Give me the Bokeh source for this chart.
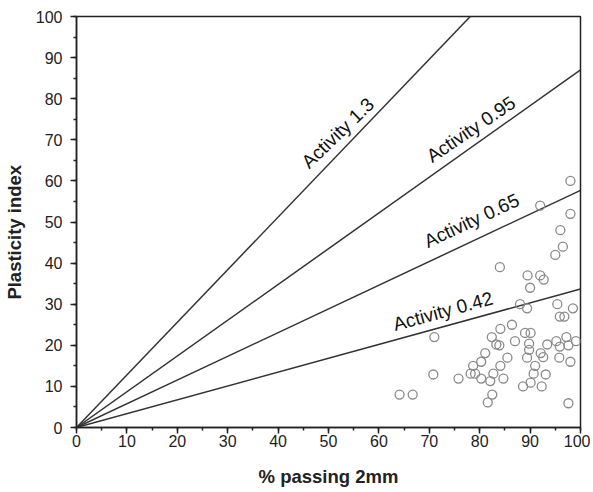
import math
from bokeh.plotting import figure
from bokeh.models import Range1d, SingleIntervalTicker, ColumnDataSource
from bokeh.embed import file_html
from bokeh.resources import INLINE
from bokeh.core.properties import value

# % passing 2mm (x) and plasticity index (y)
passing = [98, 92, 98, 96, 96.5, 95, 84, 89.5, 92, 92.7, 90, 88, 89.4, 95.4, 98.5,
           95.9, 96.8, 71, 86.4, 84.1, 82.4, 89, 90.1, 83.3, 83.9, 87, 89.8, 93.4,
           95.2, 97.2, 99.1, 95.9, 97.6, 89.8, 81.1, 92.1, 92.6, 85.5, 89.4, 95.8,
           98, 80.3, 78.7, 84.1, 91, 78.2, 79.1, 82.7, 90.7, 93.1, 70.8, 75.8, 80.3,
           82.1, 84.7, 90.1, 88.6, 92.3, 82.5, 81.6, 97.6, 64.1, 66.7]
plasticity = [60, 54, 52, 48, 44, 42, 39, 37, 37, 36, 34, 30, 29, 30, 29,
              27, 27, 22, 25, 24, 22, 23, 23, 20.2, 20, 21, 20.4, 20.2,
              21, 22, 21, 19.7, 20, 18.9, 18.1, 18.1, 17.1, 17, 17, 17,
              16, 16, 15, 15, 15, 13.1, 13.1, 13.1, 13.1, 12.9, 12.9, 11.9, 11.9,
              11.3, 11.9, 10.9, 10, 10, 8, 6.1, 5.9, 8, 8]

# Activity lines (as drawn): label, PI reached at 100 % passing
activity_labels = ["Activity 1.3", "Activity 0.95", "Activity 0.65", "Activity 0.42"]
activity_end_pi = [128, 87, 57.7, 33.7]
label_x = [54.0, 80.0, 80.0, 73.5]
label_angle_deg = [44, 34, 25, 15.4]
label_offset_px = [15, 15, 19, 15]

FW, FH = 504, 411  # frame size in px
W, H = 590, 492
L, T = 76, 16
p = figure(width=W, height=H, output_backend="svg", toolbar_location=None,
           x_range=Range1d(0, 100), y_range=Range1d(0, 100),
           min_border_left=L, min_border_right=W - L - FW,
           min_border_top=T, min_border_bottom=H - T - FH)
p.xgrid.visible = False
p.ygrid.visible = False
p.outline_line_color = "#222222"
p.outline_line_width = 1.5
p.background_fill_color = "white"
p.border_fill_color = "white"

for ax in (p.xaxis[0], p.yaxis[0]):
    ax.ticker = SingleIntervalTicker(interval=10, num_minor_ticks=2)
    ax.axis_line_color = "#222222"
    ax.axis_line_width = 1.5
    ax.major_tick_line_color = "#222222"
    ax.major_tick_line_width = 1.5
    ax.minor_tick_line_color = "#222222"
    ax.minor_tick_line_width = 1.5
    ax.major_tick_out = 6
    ax.major_tick_in = 0
    ax.minor_tick_out = 3
    ax.minor_tick_in = 0
    ax.major_label_text_font = "Liberation Sans"
    ax.major_label_text_font_size = "16px"
    ax.major_label_text_color = "#222222"
    ax.axis_label_text_font = "Liberation Sans"
    ax.axis_label_text_font_size = "18.5px"
    ax.axis_label_text_font_style = "bold"
    ax.axis_label_text_color = "#222222"

p.xaxis.axis_label = "% passing 2mm"
# trailing no-break spaces shift the visible label slightly below the frame centre
p.yaxis.axis_label = "Plasticity index" + "\u00a0" * 4
p.xaxis.major_label_standoff = 1
p.yaxis.major_label_standoff = 8
p.xaxis.axis_label_standoff = 16
p.yaxis.axis_label_standoff = 8

for end in activity_end_pi:
    p.line([0, 100], [0, end], line_color="#333333", line_width=1.5)

# label placement: along each line, offset above it
lx, ly, la = [], [], []
for xc, end, ang, d in zip(label_x, activity_end_pi, label_angle_deg, label_offset_px):
    s = end / 100.0
    th = math.atan(s * FH / FW)
    yc = s * xc
    lx.append(xc - d * math.sin(th) * 100.0 / FW)
    ly.append(yc + d * math.cos(th) * 100.0 / FH)
    la.append(math.radians(ang))

src = ColumnDataSource(dict(x=lx, y=ly, t=activity_labels, a=la))
p.text(x="x", y="y", text="t", angle="a", source=src,
       text_font=value("Liberation Sans"), text_font_size="19px",
       text_color="#111111", text_align="center", text_baseline="middle")

p.scatter(passing, plasticity, marker="circle", size=9, fill_color=None,
          line_color="#8a8a8a", line_width=1.3)

open("out.html", "w").write(file_html(p, INLINE))
